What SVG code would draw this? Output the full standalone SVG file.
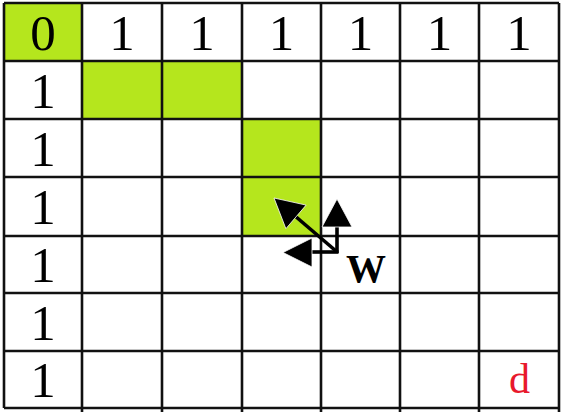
<svg xmlns="http://www.w3.org/2000/svg" width="565" height="412" viewBox="0 0 565 412">
<defs>
<style>
.hl{fill:#b5e61d}
.grid{stroke:#111;stroke-width:2.6;fill:none}
.num{font-family:"Liberation Serif","Times New Roman",serif;font-size:51px;fill:#000;text-anchor:middle}
.w{font-family:"Liberation Serif","Times New Roman",serif;font-size:40px;font-weight:bold;fill:#000}
.d{font-family:"Liberation Serif","Times New Roman",serif;font-size:42px;fill:#e8192c;text-anchor:middle}
.shaft{stroke:#000;stroke-width:3.6;fill:none}
.head{fill:#000;stroke:#fff;stroke-width:0.8}
</style>
</defs>
<rect x="0" y="0" width="565" height="412" fill="#fff"/>
<g id="cells">
<rect id="cell-0-0" class="hl" x="4" y="3" width="78" height="58"/>
<rect id="cell-1-1" class="hl" x="82" y="61" width="80" height="58"/>
<rect id="cell-1-2" class="hl" x="162" y="61" width="80" height="58"/>
<rect id="cell-2-3" class="hl" x="242" y="119" width="79" height="58"/>
<rect id="cell-3-3" class="hl" x="242" y="177" width="79" height="59"/>
</g>
<g id="grid" class="grid">
<line x1="4" y1="3" x2="4" y2="408"/>
<line x1="82" y1="3" x2="82" y2="412"/>
<line x1="162" y1="3" x2="162" y2="412"/>
<line x1="242" y1="3" x2="242" y2="412"/>
<line x1="321" y1="3" x2="321" y2="412"/>
<line x1="400" y1="3" x2="400" y2="412"/>
<line x1="479" y1="3" x2="479" y2="412"/>
<line x1="559" y1="3" x2="559" y2="412"/>
<line x1="4" y1="3" x2="559" y2="3"/>
<line x1="4" y1="61" x2="559" y2="61"/>
<line x1="4" y1="119" x2="559" y2="119"/>
<line x1="4" y1="177" x2="559" y2="177"/>
<line x1="4" y1="236" x2="559" y2="236"/>
<line x1="4" y1="293" x2="559" y2="293"/>
<line x1="4" y1="351" x2="559" y2="351"/>
<line x1="4" y1="408" x2="559" y2="408"/>
</g>
<g id="labels">
<text class="num" x="43" y="49.5">0</text>
<text class="num" x="122" y="49.5">1</text>
<text class="num" x="202" y="49.5">1</text>
<text class="num" x="281.5" y="49.5">1</text>
<text class="num" x="360.5" y="49.5">1</text>
<text class="num" x="439.5" y="49.5">1</text>
<text class="num" x="519" y="49.5">1</text>
<text class="num" x="43" y="107.5">1</text>
<text class="num" x="43" y="165.5">1</text>
<text class="num" x="43" y="224">1</text>
<text class="num" x="43" y="282">1</text>
<text class="num" x="43" y="340">1</text>
<text class="num" x="43" y="397">1</text>
<text class="d" x="519.5" y="393">d</text>
</g>
<g id="connectors">
<g id="arrow-diag">
<line class="shaft" x1="336" y1="251" x2="295" y2="216"/>
<polygon class="head" points="274,198 306.1,205.1 285.9,228.7"/>
</g>
<g id="arrow-up">
<line class="shaft" x1="337" y1="253" x2="337" y2="226"/>
<polygon class="head" points="337,199 352,227 322,227"/>
</g>
<g id="arrow-left">
<line class="shaft" x1="338.5" y1="252" x2="311" y2="252"/>
<polygon class="head" points="283,252.5 312,238 312,267"/>
</g>
</g>
<g id="w-label">
<text class="w" x="346" y="282">W</text>
</g>
</svg>
